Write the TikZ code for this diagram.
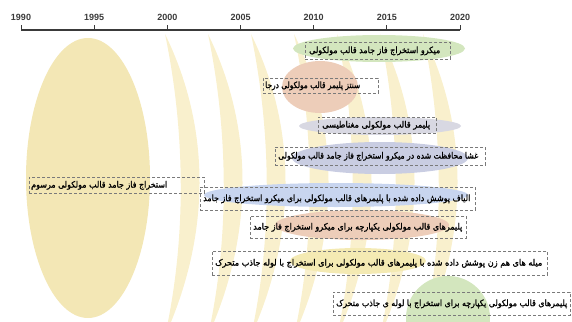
\documentclass[tikz,border=0pt]{standalone}
\usepackage{fontspec}
\usepackage{graphicx}
\setmainfont{Liberation Sans}
\newfontfamily\arabicfont[Script=Arabic,FakeBold=1.2]{DejaVu Sans}
\TeXXeTstate=1
\definecolor{bigy}{HTML}{F3E7B5}
\definecolor{cresy}{HTML}{F9F0CD}
\definecolor{eg}{HTML}{D3E6BE}
\definecolor{es}{HTML}{EDCDB9}
\definecolor{egray}{HTML}{D8D8E2}
\definecolor{ebg}{HTML}{C9CDE2}
\definecolor{eb}{HTML}{C8D5EF}
\definecolor{eye}{HTML}{F4EAB3}
\definecolor{boxline}{HTML}{7A7A7A}
\definecolor{axisc}{HTML}{3A3A3A}
\begin{document}
\begin{tikzpicture}[x=1pt,y=-1pt,
  tbox/.style={draw=boxline,densely dashed,line width=0.7pt,inner sep=0pt,anchor=north west},
  ttext/.style={font=\arabicfont\fontsize{8.8}{10}\selectfont,inner sep=0pt,text=black,anchor=west},
  year/.style={font=\bfseries\fontsize{9}{10}\selectfont,text=axisc,inner sep=0pt}]
\useasboundingbox (0,0) rectangle (572,321);
\begin{scope}
\clip (0,0) rectangle (572,321);
% crescents
\foreach \c in {165,208,251,294,337,380,423}{
  \fill[cresy] (\c,34) .. controls (\c+47,130) and (\c+45,236) .. (\c,336)
     .. controls (\c+22,236) and (\c+20,130) .. (\c,34) -- cycle;
}
% big ellipse
\fill[bigy] (88,178) ellipse [x radius=62, y radius=140];
% coloured ellipses
\fill[eg] (379,48.5) ellipse [x radius=86, y radius=13.5];
\fill[es] (320,87) ellipse [x radius=38, y radius=26];
\fill[egray] (380,126) ellipse [x radius=81, y radius=9];
\fill[ebg] (380,158) ellipse [x radius=88, y radius=16];
\fill[eb] (336,195) ellipse [x radius=132, y radius=12];
\fill[es] (362,225) ellipse [x radius=87, y radius=15];
\fill[eye] (358,261) ellipse [x radius=68, y radius=13];
\fill[eg] (448,318) circle [radius=42];
\end{scope}
% boxes
\node[tbox,minimum width=145,minimum height=17] (b1) at (305,42) {};
\node[tbox,minimum width=115,minimum height=15] (b2) at (263,78) {};
\node[tbox,minimum width=118,minimum height=16] (b3) at (318,117) {};
\node[tbox,minimum width=210,minimum height=18] (b4) at (275,147) {};
\node[tbox,minimum width=175,minimum height=16] (b5) at (29,177) {};
\node[tbox,minimum width=275,minimum height=23] (b6) at (200,187) {};
\node[tbox,minimum width=216,minimum height=22] (b7) at (250,216) {};
\node[tbox,minimum width=335,minimum height=24] (b8) at (212,251) {};
\node[tbox,minimum width=237,minimum height=23] (b9) at (333,292) {};
% texts
\node[ttext] (t1) at (b1.west) [xshift=4pt] {\resizebox{131pt}{\height}{\beginR میکرو استخراج فاز جامد قالب مولکولی\endR}};
\node[ttext] (t2) at (b2.west) [xshift=2pt] {\resizebox{95pt}{\height}{\beginR سنتز پلیمر قالب مولکولی درجا\endR}};
\node[ttext] (t3) at (b3.west) [xshift=4pt] {\resizebox{108pt}{\height}{\beginR پلیمر قالب مولکولی مغناطیسی\endR}};
\node[ttext] (t4) at (b4.west) [xshift=3pt] {\resizebox{200pt}{\height}{\beginR غشا محافظت شده در میکرو استخراج فاز جامد قالب مولکولی\endR}};
\node[ttext] (t5) at (b5.west) [xshift=2pt] {\resizebox{136pt}{\height}{\beginR استخراج فاز جامد قالب مولکولی مرسوم\endR}};
\node[ttext] (t6) at (b6.west) [xshift=3pt] {\resizebox{267pt}{\height}{\beginR الیاف پوشش داده شده با پلیمرهای قالب مولکولی برای میکرو استخراج فاز جامد\endR}};
\node[ttext] (t7) at (b7.west) [xshift=3pt] {\resizebox{209pt}{\height}{\beginR پلیمرهای قالب مولکولی یکپارچه برای میکرو استخراج فاز جامد\endR}};
\node[ttext] (t8) at (b8.west) [xshift=3pt] {\resizebox{327pt}{\height}{\beginR میله های هم زن پوشش داده شده با پلیمرهای قالب مولکولی برای استخراج با لوله جاذب متحرک\endR}};
\node[ttext] (t9) at (b9.west) [xshift=3pt] {\resizebox{231pt}{\height}{\beginR پلیمرهای قالب مولکولی یکپارچه برای استخراج با لوله ی جاذب متحرک\endR}};
% axis
\coordinate (a0) at (21,30);
\coordinate (a1) at (460,30);
\draw[axisc,line width=1.2pt] (a0) -- (a1);
\foreach \yr [count=\i from 0] in {1990,1995,2000,2005,2010,2015,2020}{
  \draw[axisc,line width=1pt] (21+73.17*\i,30) -- ++(0,-5);
  \node[year] (y\i) at (21+73.17*\i,17) {\yr};
}
\end{tikzpicture}
\end{document}
